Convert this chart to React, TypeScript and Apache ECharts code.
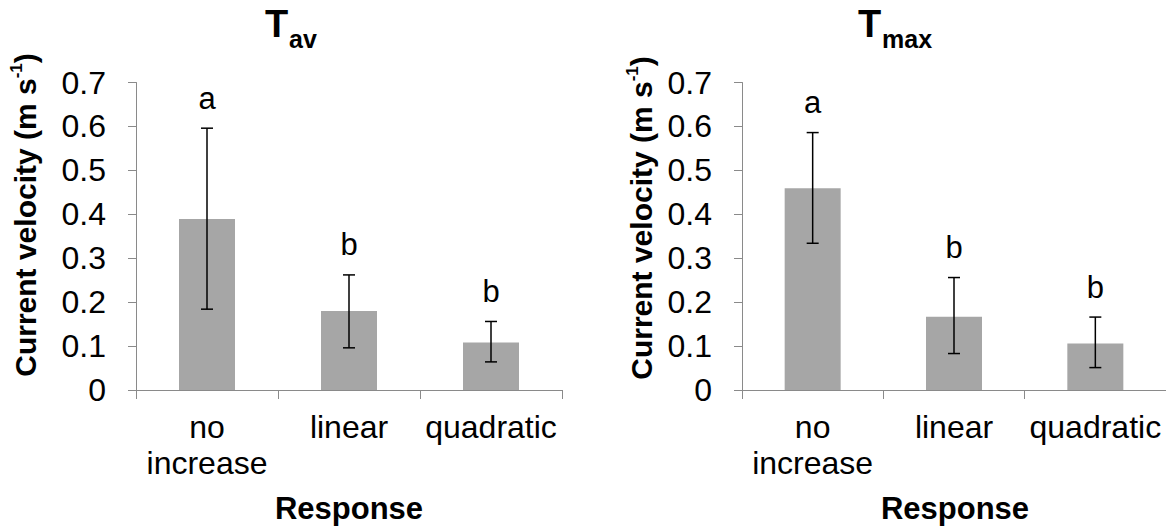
import React, { useEffect, useRef } from "react";
import * as echarts from "echarts";

const categories = ["no\nincrease", "linear", "quadratic"];
const yTicks = [0, 0.1, 0.2, 0.3, 0.4, 0.5, 0.6, 0.7];

// T_av panel
const avMean = [0.389, 0.18, 0.108];
const avUpper = [0.596, 0.262, 0.156];
const avLower = [0.184, 0.096, 0.064];
const avLetters = ["a", "b", "b"];

// T_max panel
const maxMean = [0.459, 0.167, 0.106];
const maxUpper = [0.586, 0.256, 0.166];
const maxLower = [0.334, 0.083, 0.051];
const maxLetters = ["a", "b", "b"];

const FONT = "'Liberation Sans', Arial, Helvetica, sans-serif";
const AXIS_COLOR = "#8a8a8a";
const BAR_COLOR = "#a6a6a6";

function errSeries(idx: number, lower: number[], upper: number[], letters: string[]) {
  return {
    type: "custom",
    xAxisIndex: idx,
    yAxisIndex: idx,
    z: 5,
    encode: { x: 0, y: [1, 2] },
    data: lower.map((lo, i) => [i, lo, upper[i]]),
    renderItem: (params: any, api: any) => {
      const x = api.value(0);
      const pLo = api.coord([x, api.value(1)]);
      const pHi = api.coord([x, api.value(2)]);
      const cap = 6;
      const st = { stroke: "#000", lineWidth: 1.5 };
      return {
        type: "group",
        children: [
          { type: "line", shape: { x1: pHi[0], y1: pHi[1], x2: pLo[0], y2: pLo[1] }, style: st },
          { type: "line", shape: { x1: pHi[0] - cap, y1: pHi[1], x2: pHi[0] + cap, y2: pHi[1] }, style: st },
          { type: "line", shape: { x1: pLo[0] - cap, y1: pLo[1], x2: pLo[0] + cap, y2: pLo[1] }, style: st },
          {
            type: "text",
            x: pHi[0],
            y: pHi[1] - 30,
            style: {
              text: letters[params.dataIndex],
              fontSize: 31,
              fontFamily: FONT,
              fill: "#000",
              align: "center",
              verticalAlign: "middle",
            },
          },
        ],
      };
    },
  };
}

function yAxis(idx: number) {
  return {
    type: "value",
    gridIndex: idx,
    min: 0,
    max: 0.7,
    interval: 0.1,
    axisLine: { show: true, lineStyle: { color: AXIS_COLOR, width: 1 } },
    axisTick: { show: true, length: 8, lineStyle: { color: AXIS_COLOR } },
    splitLine: { show: false },
    axisLabel: {
      fontSize: 32,
      fontFamily: FONT,
      color: "#000",
      margin: 30,
      formatter: (v: number) => {
        const t = yTicks.find((k) => Math.abs(k - v) < 1e-6);
        return t === 0 ? "0" : (t ?? v).toFixed(1);
      },
    },
  };
}

function xAxis(idx: number) {
  return {
    type: "category",
    gridIndex: idx,
    data: categories,
    boundaryGap: true,
    axisLine: { show: true, lineStyle: { color: AXIS_COLOR, width: 1 } },
    axisTick: { show: true, length: 9, alignWithLabel: false, interval: 0, lineStyle: { color: AXIS_COLOR } },
    axisLabel: {
      interval: 0,
      fontSize: 32,
      lineHeight: 36,
      fontFamily: FONT,
      color: "#000",
      margin: 19,
    },
  };
}

function yName(x: number, y: number) {
  return {
    type: "text",
    x,
    y,
    rotation: Math.PI / 2,
    style: {
      text: "{m|Current velocity (m s}{s|-1}{m|)}",
      align: "center",
      verticalAlign: "middle",
      fill: "#000",
      rich: {
        m: { fontSize: 30, fontWeight: "bold", fontFamily: FONT, fill: "#000", lineHeight: 34 },
        s: { fontSize: 17, fontWeight: "bold", fontFamily: FONT, fill: "#000", lineHeight: 16, verticalAlign: "top" },
      },
    },
  };
}

function titleEls(tx: number, sub: string) {
  return [
    {
      type: "text",
      x: tx,
      y: 24,
      style: { text: "T", fontSize: 38, fontWeight: "bold", fontFamily: FONT, fill: "#000", align: "left", verticalAlign: "middle" },
    },
    {
      type: "text",
      x: tx + 24,
      y: 39,
      style: { text: sub, fontSize: 25, fontWeight: "bold", fontFamily: FONT, fill: "#000", align: "left", verticalAlign: "middle" },
    },
  ];
}

function respEl(x: number) {
  return {
    type: "text",
    x,
    y: 508,
    style: { text: "Response", fontSize: 31, fontWeight: "bold", fontFamily: FONT, fill: "#000", align: "center", verticalAlign: "middle" },
  };
}

export default function App() {
  const ref = useRef<HTMLDivElement>(null);
  useEffect(() => {
    if (!ref.current) return;
    const chart = echarts.init(ref.current, undefined, { renderer: "svg" });
    chart.setOption({
      animation: false,
      backgroundColor: "#fff",
      grid: [
        { left: 136, top: 82.5, width: 426, height: 307.5 },
        { left: 742, top: 82.5, width: 426, height: 307.5 },
      ],
      xAxis: [xAxis(0), xAxis(1)],
      yAxis: [yAxis(0), yAxis(1)],
      series: [
        { type: "bar", xAxisIndex: 0, yAxisIndex: 0, data: avMean, barWidth: 56, itemStyle: { color: BAR_COLOR } },
        { type: "bar", xAxisIndex: 1, yAxisIndex: 1, data: maxMean, barWidth: 56, itemStyle: { color: BAR_COLOR } },
        errSeries(0, avLower, avUpper, avLetters),
        errSeries(1, maxLower, maxUpper, maxLetters),
      ],
      graphic: [
        ...titleEls(265, "av"),
        ...titleEls(858, "max"),
        yName(25, 215),
        yName(641, 218),
        respEl(349),
        respEl(955),
      ],
    });
    return () => chart.dispose();
  }, []);
  return <div ref={ref} style={{ position: "absolute", left: 0, top: 0, width: 1166, height: 526 }} />;
}
